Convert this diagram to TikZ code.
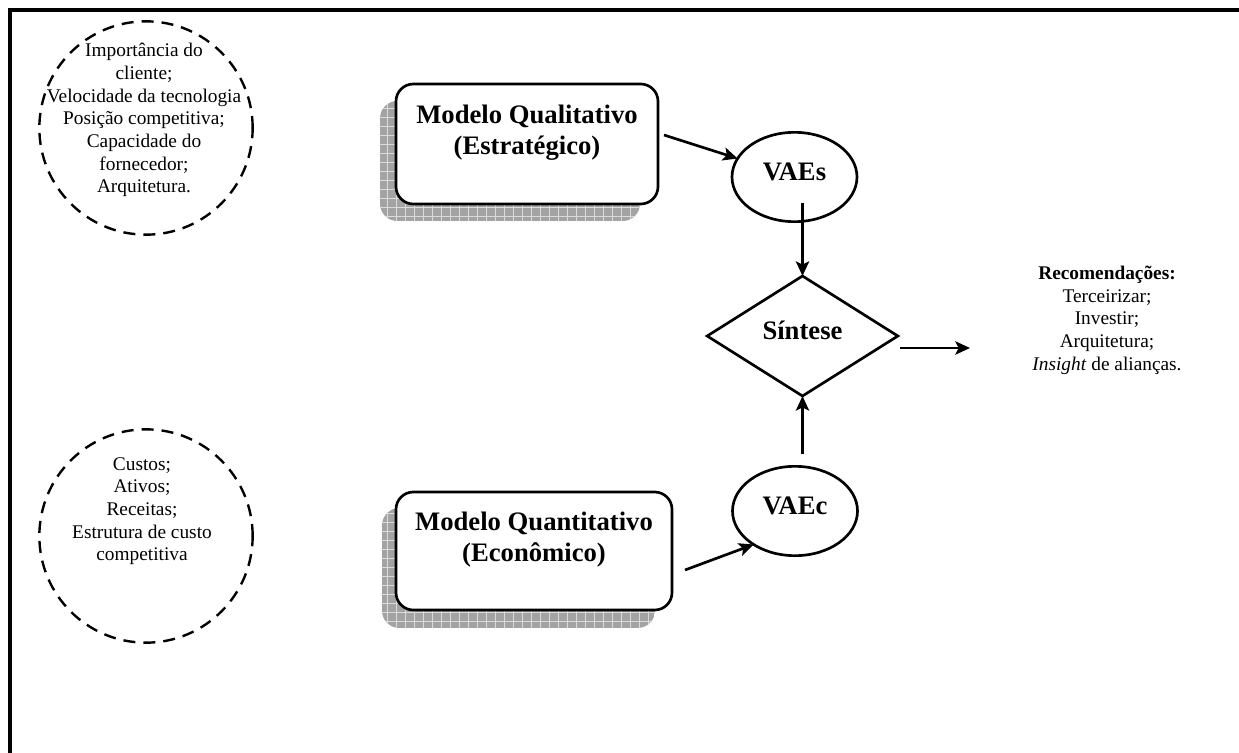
\documentclass[tikz,border=0pt]{standalone}
\usepackage{fontspec}
\setmainfont{Liberation Serif}
\usetikzlibrary{shapes.geometric,arrows.meta,calc}

\begin{document}
\begin{tikzpicture}[x=0.75pt,y=-0.75pt,
  every node/.style={inner sep=0pt, outer sep=0pt},
  factors/.style={circle, draw, line width=1.8pt, dash pattern=on 9pt off 6pt, minimum size=160pt},
  factortext/.style={align=center, font=\fontsize{14.5}{17}\selectfont},
  model/.style={rectangle, draw, fill=white, line width=2pt, rounded corners=13pt,
                minimum width=#1, minimum height=90pt},
  modeltext/.style={align=center, font=\fontsize{20}{23.25}\selectfont\bfseries},
  value/.style={ellipse, draw, line width=2pt, minimum width=93.75pt, minimum height=67pt,
                font=\fontsize{20}{24}\selectfont\bfseries, text height=13.5pt, text depth=9pt},
  merge/.style={diamond, draw, line width=2pt, minimum width=143pt, minimum height=90pt,
                font=\fontsize{20}{24}\selectfont\bfseries, text height=13.5pt, text depth=9pt},
  arr/.style={line width=2pt, -{Stealth[length=11pt, width=10pt, inset=2.5pt]}},
  shadowfill/.style={fill=black!36},
  shadowgrid/.style={draw=black!14, line width=0.7pt}
]
\useasboundingbox (0,0) rectangle (1239,753);

% page frame (top and left edges)
\draw[line width=3pt] (10,753) -- (10,10) -- (1239,10);

% factor circles
\node[factors] (fq) at (146,128) {};
\node[factortext] (fqt) at (144,120) {Importância do\\cliente;\\Velocidade da tecnologia\\Posição competitiva;\\Capacidade do\\fornecedor;\\Arquitetura.};
\node[factors] (fe) at (146,536) {};
\node[factortext] (fet) at (142,511) {Custos;\\Ativos;\\Receitas;\\Estrutura de custo\\competitiva};

% model boxes with hatched drop shadows
\coordinate (qualc) at (527,144);
\coordinate (quantc) at (534,551);
\begin{scope}
  \clip[rounded corners=13pt] ($(qualc)+(-147,-43)$) rectangle ($(qualc)+(113,77)$);
  \fill[shadowfill] ($(qualc)+(-147,-43)$) rectangle ($(qualc)+(113,77)$);
  \draw[shadowgrid, step=6.75pt] ($(qualc)+(-150,-46)$) grid ($(qualc)+(116,80)$);
\end{scope}
\begin{scope}
  \clip[rounded corners=13pt] ($(quantc)+(-152,-43)$) rectangle ($(quantc)+(121,77)$);
  \fill[shadowfill] ($(quantc)+(-152,-43)$) rectangle ($(quantc)+(121,77)$);
  \draw[shadowgrid, step=6.75pt] ($(quantc)+(-155,-46)$) grid ($(quantc)+(124,80)$);
\end{scope}
\node[model=196.5pt] (qual) at (qualc) {};
\node[modeltext] (qualt) at (527,132.5) {Modelo Qualitativo\\(Estratégico)};
\node[model=207pt, minimum height=88.5pt] (quant) at (quantc) {};
\node[modeltext] (quantt) at (534,540) {Modelo Quantitativo\\(Econômico)};

% value nodes and synthesis
\node[value] (vaes) at (794.5,177) {VAEs};
\node[value] (vaec) at (795,511) {VAEc};
\node[merge] (sint) at (802.5,336) {Síntese};

% recommendations
\node[align=center, font=\fontsize{14.5}{17}\selectfont] (rec) at (1107,320)
  {\textbf{Recomendações:}\\Terceirizar;\\Investir;\\Arquitetura;\\\textit{Insight} de alianças.};
\coordinate (recin) at (970,348);

% connectors
\draw[arr] ($(qual.east)+(6,-9)$) -- (vaes.162);
\draw[arr] ($(vaes.center)+(8,26)$) -- (sint.north);
\draw[arr] ($(quant.east)+(13,19)$) -- (vaec.219);
\draw[arr] ($(vaec.north)+(7.5,-12)$) -- (sint.south);
\draw[arr] ($(sint.east)+(2,12)$) -- (recin);
\end{tikzpicture}
\end{document}
